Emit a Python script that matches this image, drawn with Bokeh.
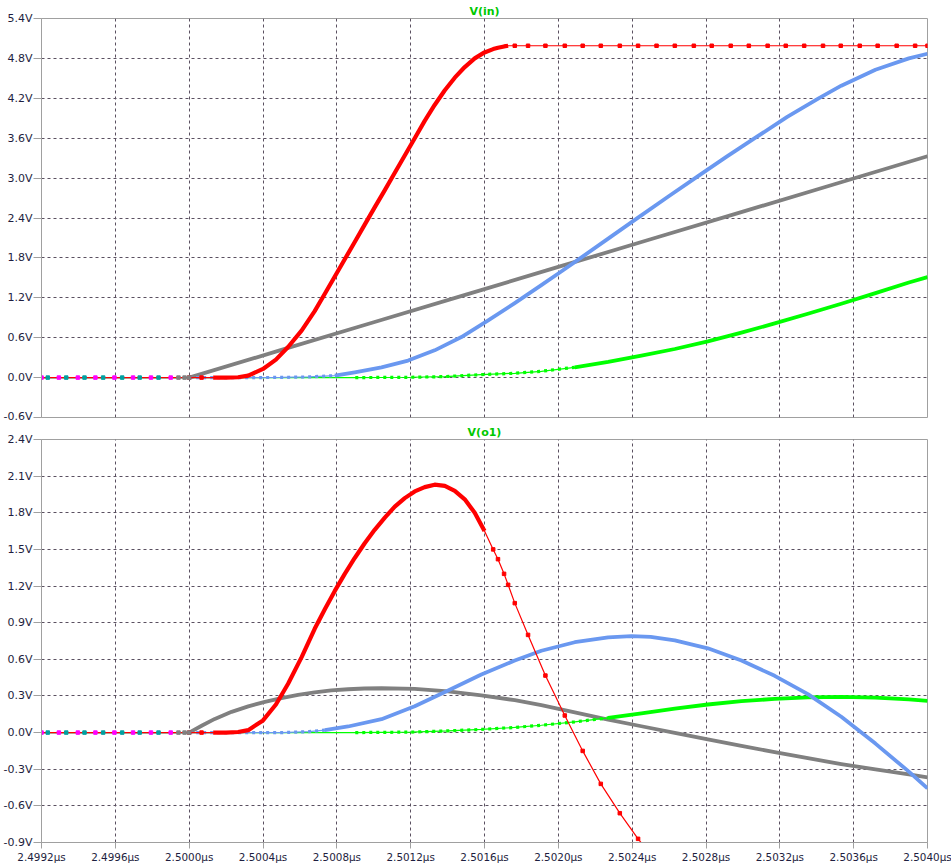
import numpy as np
from bokeh.plotting import figure
from bokeh.layouts import column
from bokeh.models import Range1d, FixedTicker
from bokeh.embed import file_html
from bokeh.resources import INLINE

# ---------------- axes (time offset in ns from 2.5000 us) ----------------
X_TICKS = [-0.8, -0.4, 0.0, 0.4, 0.8, 1.2, 1.6, 2.0, 2.4, 2.8, 3.2, 3.6, 4.0]
X_LABELS = ["2.4992µs", "2.4996µs", "2.5000µs", "2.5004µs", "2.5008µs", "2.5012µs",
            "2.5016µs", "2.5020µs", "2.5024µs", "2.5028µs", "2.5032µs", "2.5036µs", "2.5040µs"]
IN_Y_TICKS = [-0.6, 0.0, 0.6, 1.2, 1.8, 2.4, 3.0, 3.6, 4.2, 4.8, 5.4]
IN_Y_LABELS = ["-0.6V", "0.0V", "0.6V", "1.2V", "1.8V", "2.4V", "3.0V", "3.6V", "4.2V", "4.8V", "5.4V"]
O1_Y_TICKS = [-0.9, -0.6, -0.3, 0.0, 0.3, 0.6, 0.9, 1.2, 1.5, 1.8, 2.1, 2.4]
O1_Y_LABELS = ["-0.9V", "-0.6V", "-0.3V", "0.0V", "0.3V", "0.6V", "0.9V", "1.2V", "1.5V", "1.8V", "2.1V", "2.4V"]
TITLE_IN = "V(in)"
TITLE_O1 = "V(o1)"

# ---------------- red run ----------------
RED_T = [-0.8, -0.7, -0.6, -0.5, -0.4, -0.3, -0.2, -0.1, 0.0, 0.067, 0.13, 0.2,
         0.265, 0.32, 0.40, 0.47, 0.536, 0.61, 0.68, 0.735, 0.789, 0.843, 0.897, 0.951,
         1.005, 1.06, 1.114, 1.168, 1.222, 1.276, 1.33, 1.385, 1.439, 1.493, 1.547, 1.60,
         1.647, 1.673, 1.706, 1.728, 1.764, 1.836,
         1.930, 2.035, 2.132, 2.230, 2.333, 2.432, 2.532,
         2.631, 2.734, 2.831, 2.934, 3.032, 3.134, 3.232, 3.332, 3.434, 3.530, 3.633,
         3.730, 3.833, 3.933, 4.0]
RED_IN = [0, 0, 0, 0, 0, 0, 0, 0, 0, 0, 0, 0,
          0.005, 0.03, 0.13, 0.27, 0.46, 0.71, 1.00, 1.26, 1.52, 1.78, 2.04, 2.30,
          2.56, 2.82, 3.08, 3.34, 3.60, 3.86, 4.10, 4.32, 4.51, 4.67, 4.80, 4.89,
          4.94, 4.96, 4.98, 4.99, 4.99, 4.99,
          4.99, 4.99, 4.99, 4.99, 4.99, 4.99, 4.99,
          4.99, 4.99, 4.99, 4.99, 4.99, 4.99, 4.99, 4.99, 4.99, 4.99, 4.99,
          4.99, 4.99, 4.99, 4.99]
RED_O1 = [0, 0, 0, 0, 0, 0, 0, 0, 0, 0, 0, 0,
          0.005, 0.02, 0.10, 0.23, 0.40, 0.62, 0.85, 1.01, 1.16, 1.30, 1.43, 1.55,
          1.66, 1.76, 1.85, 1.92, 1.975, 2.01, 2.03, 2.02, 1.98, 1.91, 1.80, 1.65,
          1.50, 1.42, 1.30, 1.21, 1.06, 0.80,
          0.467, 0.14, -0.15, -0.42, -0.66, -0.87, -1.06]

# ---------------- blue run ----------------
BLUE_IN_T = [-0.8, 0.0, 0.2, 0.35, 0.5, 0.65, 0.789, 0.897, 1.042, 1.186, 1.33, 1.475, 1.62,
             1.764, 1.908, 2.0, 2.106, 2.27, 2.432, 2.6, 2.757, 2.91, 3.064, 3.24, 3.41,
             3.533, 3.718, 3.899, 4.0]
BLUE_IN = [0, 0, 0, 0, 0.003, 0.01, 0.03, 0.08, 0.155, 0.256, 0.41, 0.61, 0.86,
           1.12, 1.39, 1.565, 1.77, 2.09, 2.405, 2.73, 3.03, 3.32, 3.60, 3.92, 4.20,
           4.39, 4.63, 4.80, 4.87]
BLUE_O1_T = [-0.8, 0.0, 0.3, 0.5, 0.65, 0.735, 0.861, 1.042, 1.222, 1.403, 1.583, 1.764,
             1.908, 2.089, 2.27, 2.396, 2.5, 2.631, 2.81, 2.992, 3.172, 3.352, 3.533,
             3.718, 3.899, 4.0]
BLUE_O1 = [0, 0, 0, 0, 0.008, 0.02, 0.05, 0.11, 0.215, 0.345, 0.475, 0.59,
           0.67, 0.74, 0.78, 0.79, 0.783, 0.755, 0.69, 0.59, 0.465, 0.315, 0.13,
           -0.09, -0.32, -0.457]

# ---------------- green run ----------------
GREEN_IN_T = [-0.8, 0.0, 0.5, 0.9, 1.2, 1.385, 1.583, 1.764, 1.908, 2.089, 2.27, 2.45,
              2.631, 2.81, 2.992, 3.172, 3.352, 3.533, 3.718, 3.899, 4.0]
GREEN_IN = [0, 0, 0, 0, 0.005, 0.015, 0.045, 0.065, 0.095, 0.155, 0.235, 0.33,
            0.43, 0.545, 0.675, 0.815, 0.96, 1.11, 1.27, 1.43, 1.51]
GREEN_O1_T = [-0.8, 0.0, 0.5, 0.9, 1.2, 1.403, 1.583, 1.764, 1.908, 2.089, 2.27, 2.45,
              2.631, 2.81, 2.992, 3.172, 3.352, 3.533, 3.718, 3.899, 4.0]
GREEN_O1 = [0, 0, 0, 0, 0.004, 0.014, 0.026, 0.042, 0.06, 0.088, 0.12, 0.158,
            0.197, 0.23, 0.258, 0.276, 0.289, 0.292, 0.287, 0.272, 0.26]

# ---------------- gray run (magenta / teal runs lie beneath it) ----------------
GRAY_IN_T = [-0.8, 0.0, 0.5, 1.0, 1.5, 2.0, 2.5, 3.0, 3.5, 4.0]
GRAY_IN = [0, 0, 0.416, 0.832, 1.248, 1.664, 2.08, 2.496, 2.912, 3.328]
GRAY_O1_T = [-0.8, 0.0, 0.07, 0.139, 0.23, 0.32, 0.41, 0.5, 0.59, 0.68, 0.77, 0.861,
             0.95, 1.042, 1.222, 1.403, 1.583, 1.764, 1.908, 2.089, 2.27, 2.45, 2.631,
             2.81, 2.992, 3.172, 3.352, 3.533, 3.718, 3.899, 4.0]
GRAY_O1 = [0, 0, 0.058, 0.112, 0.170, 0.215, 0.252, 0.283, 0.309, 0.329, 0.345, 0.355,
           0.361, 0.363, 0.358, 0.338, 0.305, 0.265, 0.225, 0.165, 0.107, 0.052, -0.002,
           -0.055, -0.108, -0.16, -0.21, -0.258, -0.302, -0.342, -0.366]
MAG_PRE_T = [-0.8, -0.706, -0.603, -0.508, -0.405, -0.304, -0.207, -0.1]
MAG_PRE_V = [0, 0, 0, 0, 0, 0, 0, 0]
TEAL_PRE_T = [-0.766, -0.666, -0.567, -0.466, -0.363, -0.268, -0.166]
TEAL_PRE_V = [0, 0, 0, 0, 0, 0, 0]
GRAY_PRE_T = [-0.058, -0.025, 0.0]
GRAY_PRE_V = [0, 0, 0]

RED = "#ff0000"
BLUE = "#6a98f0"
GREEN = "#00ff00"
GRAY = "#808080"
MAGENTA = "#ff00ff"
TEAL = "#00a0a0"
FONT = "DejaVu Sans"
LABEL_COLOR = "#1e1e40"


def make_panel(title, yticks, ylabels, frame_h, top, bottom, show_x):
    p = figure(frame_width=886, frame_height=frame_h,
               x_range=Range1d(X_TICKS[0], X_TICKS[-1]),
               y_range=Range1d(yticks[0], yticks[-1]),
               output_backend="svg", toolbar_location=None,
               x_axis_location="below" if show_x else None,
               min_border_left=39, min_border_right=26,
               min_border_top=top, min_border_bottom=bottom,
               background_fill_color="white", border_fill_color="white",
               title=title)
    p.title.align = "center"
    p.title.text_color = "#00c800"
    p.title.text_font = FONT
    p.title.text_font_size = "11px"
    p.title.text_font_style = "bold"
    p.title.standoff = 2
    p.outline_line_color = "#a0a0a0"
    p.outline_line_width = 1

    for g, ticks in ((p.xgrid, X_TICKS), (p.ygrid, yticks)):
        g.ticker = FixedTicker(ticks=ticks[1:-1])
        g.grid_line_color = "#5a5060"
        g.grid_line_dash = "3 3"
        g.grid_line_width = 1

    ya = p.yaxis[0]
    ya.ticker = FixedTicker(ticks=yticks)
    ya.major_label_overrides = dict(zip(yticks, ylabels))
    ya.major_label_text_font_size = "11px"
    axes = [ya]
    if show_x:
        xa = p.xaxis[0]
        xa.ticker = FixedTicker(ticks=X_TICKS)
        xa.major_label_overrides = dict(zip(X_TICKS, X_LABELS))
        xa.major_tick_out = 6
        xa.major_label_standoff = 2
        xa.major_label_text_font_size = "10.4px"
        axes.append(xa)
    ya.major_tick_out = 8
    ya.major_label_standoff = 1
    for a in axes:
        a.axis_line_color = "#a0a0a0"
        a.major_tick_line_color = "#a0a0a0"
        a.major_tick_in = 0
        a.minor_tick_in = 0
        a.minor_tick_out = 0
        a.major_label_text_font = FONT
        a.major_label_text_color = LABEL_COLOR
    return p


def trace(p, t, v, color, dense=None, dotted=None, marks=False, width=3.8):
    t = np.asarray(t, dtype=float)
    v = np.asarray(v, dtype=float)
    p.line(t, v, line_color=color, line_width=1.2)
    used = np.zeros(len(t), dtype=bool)
    if dotted is not None:
        m = (t >= dotted[0]) & (t <= dotted[1])
        p.line(t[m], v[m], line_color=color, line_width=3.2, line_dash="3 4")
        used |= m
    if dense is not None:
        m = (t >= dense[0]) & (t <= dense[1])
        p.line(t[m], v[m], line_color=color, line_width=width, line_join="round")
        used |= m
    if marks:
        m = (~used) & (t >= 0)
        p.scatter(t[m], v[m], marker="square", size=3.5, line_color=color, fill_color=color)


def pre_marks(p):
    p.scatter(MAG_PRE_T, MAG_PRE_V, marker="square", size=3.5, color=MAGENTA)
    p.scatter(TEAL_PRE_T, TEAL_PRE_V, marker="square", size=3.5, color=TEAL)
    p.scatter(GRAY_PRE_T, GRAY_PRE_V, marker="square", size=3.5, color=GRAY)


# ---------------- top pane: V(in) ----------------
p1 = make_panel(TITLE_IN, IN_Y_TICKS, IN_Y_LABELS, 399, 18, 5, False)
trace(p1, GRAY_IN_T, GRAY_IN, GRAY, dense=(0.0, 4.0))
trace(p1, GREEN_IN_T, GREEN_IN, GREEN, dotted=(0.6, 2.1), dense=(2.089, 4.0))
trace(p1, BLUE_IN_T, BLUE_IN, BLUE, dotted=(0.0, 0.8), dense=(0.789, 4.0))
trace(p1, RED_T, RED_IN, RED, dense=(0.12, 1.73), marks=True, width=4.2)
pre_marks(p1)

# ---------------- bottom pane: V(o1) ----------------
p2 = make_panel(TITLE_O1, O1_Y_TICKS, O1_Y_LABELS, 403, 16, 26, True)
trace(p2, GRAY_O1_T, GRAY_O1, GRAY, dense=(0.0, 4.0))
trace(p2, GREEN_O1_T, GREEN_O1, GREEN, dotted=(0.6, 2.27), dense=(2.27, 4.0))
trace(p2, BLUE_O1_T, BLUE_O1, BLUE, dotted=(0.0, 0.74), dense=(0.735, 4.0))
trace(p2, RED_T[:len(RED_O1)], RED_O1, RED, dense=(0.12, 1.62), marks=True, width=4.2)
pre_marks(p2)

layout = column(p1, p2, spacing=0)
open("out.html", "w").write(file_html(layout, INLINE))
